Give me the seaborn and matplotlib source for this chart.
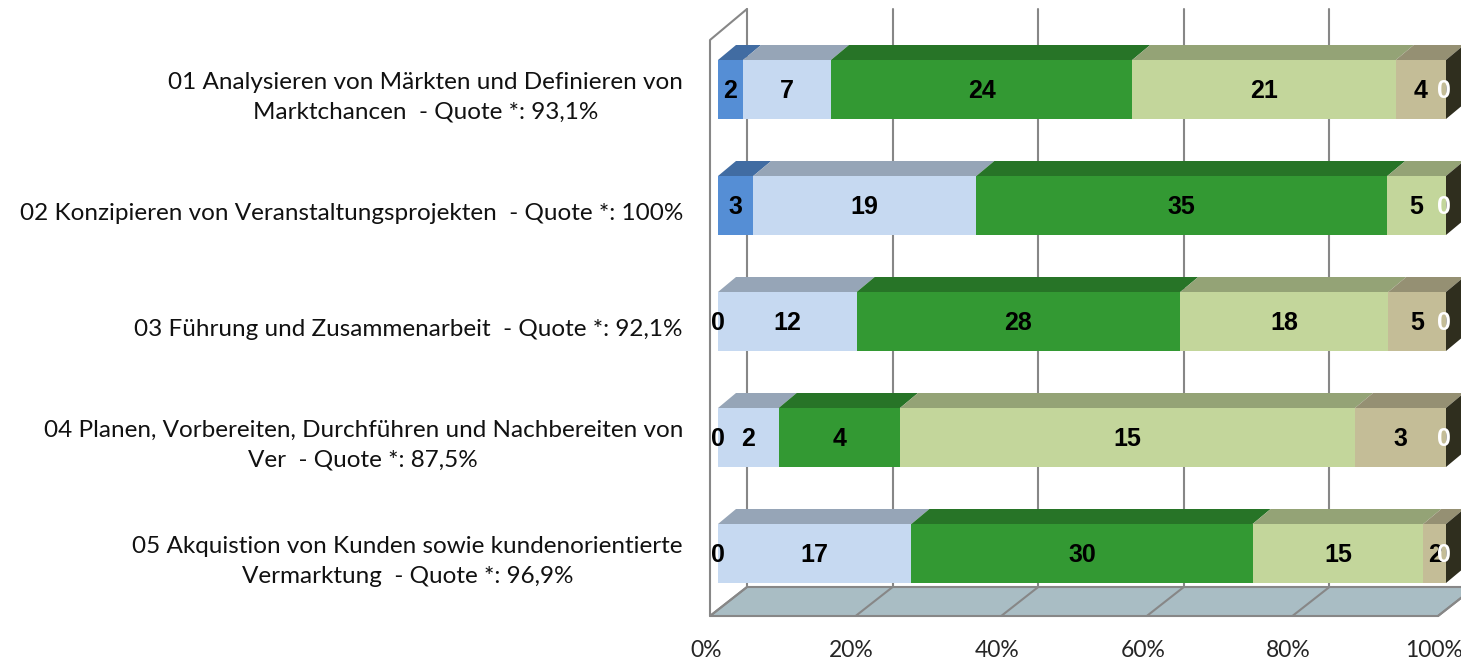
import numpy as np
import matplotlib
matplotlib.use("Agg")
import matplotlib.pyplot as plt
import seaborn as sns
from matplotlib.patches import Polygon
from matplotlib.colors import to_rgb

# Daten
kategorien = [
    "01 Analysieren von Märkten und Definieren von\nMarktchancen  - Quote *: 93,1%",
    "02 Konzipieren von Veranstaltungsprojekten  - Quote *: 100%",
    "03 Führung und Zusammenarbeit  - Quote *: 92,1%",
    "04 Planen, Vorbereiten, Durchführen und Nachbereiten von\nVer  - Quote *: 87,5%",
    "05 Akquistion von Kunden sowie kundenorientierte\nVermarktung  - Quote *: 96,9%",
]
stufe1 = [2, 3, 0, 0, 0]
stufe2 = [7, 19, 12, 2, 17]
stufe3 = [24, 35, 28, 4, 30]
stufe4 = [21, 5, 18, 15, 15]
stufe5 = [4, np.nan, 5, 3, 2]
stufe6 = [0, 0, 0, 0, 0]
reihen = [stufe1, stufe2, stufe3, stufe4, stufe5, stufe6]
farben = ["#558ED5", "#C6D9F1", "#339933", "#C3D69B", "#C4BD97", "#2F2E1E"]
label_farben = ["black", "black", "black", "black", "black", "white"]
prozent_ticks = [0, 20, 40, 60, 80, 100]

sns.set_style("white")
plt.rcParams["font.family"] = ["Lato", "DejaVu Sans"]

# Geometrie (Pixel -> Datenkoordinaten)
PX = 7.28   # Pixel pro Prozent
PY = 116.0  # Pixel pro Kategorie
y0 = 89.5   # Pixel-Mitte der ersten Kategorie
hoehe = 59 / PY
dx3, dy3 = 18 / PX, 15 / PY          # Tiefe der Balken
vorn_x, hinten_x = -8 / PX, 29 / PX  # Boden vorne / Rückwand
boden_vorn, boden_hinten = (616 - y0) / PY, (587 - y0) / PY
wand_oben = (9 - y0) / PY
wand_vorn_oben = (40 - y0) / PY

fig = plt.figure(figsize=(14.61, 6.64), dpi=100)
ax = fig.add_axes([700 / 1461, 34 / 664, 761 / 1461, 630 / 664])

werte = np.array(reihen, dtype=float)
summen = np.nansum(werte, axis=0)
prozent = np.nan_to_num(werte) / summen * 100
links = np.zeros(len(kategorien))

for k in range(len(reihen)):
    sns.barplot(x=prozent[k], y=kategorien, orient="h", left=links.copy(),
                color=farben[k], saturation=1, width=hoehe, errorbar=None,
                linewidth=0, ax=ax, zorder=3)
    dunkel = tuple(c * 0.76 for c in to_rgb(farben[k]))
    for i in range(len(kategorien)):
        x0, x1 = links[i], links[i] + prozent[k][i]
        oben = i - hoehe / 2
        if x1 > x0:
            ax.add_patch(Polygon([(x0, oben), (x1, oben), (x1 + dx3, oben - dy3),
                                  (x0 + dx3, oben - dy3)], closed=True,
                                 facecolor=dunkel, edgecolor="none", zorder=3))
        if not np.isnan(werte[k][i]):
            xm = min((x0 + x1) / 2, 99.7)
            ax.text(xm, i + 2 / PY, f"{int(werte[k][i])}", ha="center", va="center",
                    fontsize=18, fontweight="bold", family="Liberation Sans",
                    color=label_farben[k], zorder=6)
    links = links + prozent[k]

# rechte Seitenfläche
for i in range(len(kategorien)):
    oben, unten = i - hoehe / 2, i + hoehe / 2
    ax.add_patch(Polygon([(links[i], oben), (links[i], unten), (links[i] + dx3, unten - dy3),
                          (links[i] + dx3, oben - dy3)], closed=True,
                         facecolor=farben[-1], edgecolor="none", zorder=3))

# Boden
grau = "#878787"
ax.add_patch(Polygon([(vorn_x, boden_vorn), (100 + vorn_x, boden_vorn),
                      (100 + hinten_x, boden_hinten), (hinten_x, boden_hinten)],
                     closed=True, facecolor="#A9BDC4", edgecolor=grau, lw=1.5, zorder=1))
for p in prozent_ticks:
    ax.plot([p + hinten_x, p + hinten_x], [wand_oben, boden_hinten], color=grau, lw=1.5, zorder=0.5)
    ax.plot([p + hinten_x, p + vorn_x], [boden_hinten, boden_vorn], color=grau, lw=1.5, zorder=1.5)
# linke Wand
ax.plot([vorn_x, vorn_x, hinten_x], [boden_vorn, wand_vorn_oben, wand_oben], color=grau, lw=1.5,
        zorder=1.5, clip_on=False)

# Beschriftungen links
for i, txt in enumerate(kategorien):
    ax.text((683 - 718) / PX, i + 8 / PY, txt, ha="right", va="center", multialignment="center",
            fontsize=17.5, linespacing=1.5, color="#111111", clip_on=False)

ax.set_xlim(-18 / PX, 743 / PX)
ax.set_ylim((630 - y0) / PY, (0 - y0) / PY)
ax.set_xticks([p + vorn_x - 4 / PX for p in prozent_ticks])
ax.set_xticklabels([f"{p}%" for p in prozent_ticks], fontsize=16.5)
ax.tick_params(axis="x", length=0, pad=7)
ax.tick_params(axis="y", length=0, labelleft=False)
ax.set_xlabel("")
ax.set_ylabel("")
sns.despine(ax=ax, left=True, bottom=True)

fig.savefig("out.png", dpi=100)
